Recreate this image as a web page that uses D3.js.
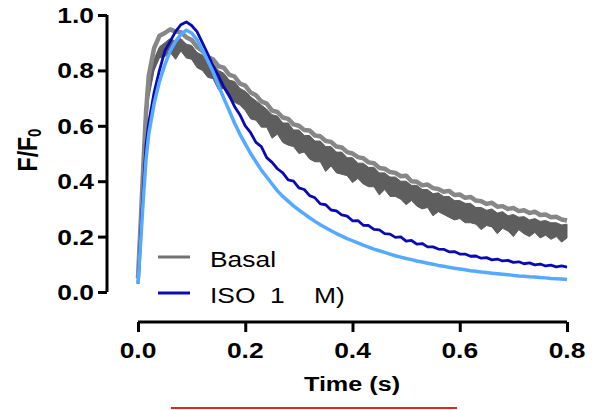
<!DOCTYPE html>
<html>
<head>
<meta charset="utf-8">
<script src="https://cdn.jsdelivr.net/npm/d3@7"></script>
<style>
  body { margin: 0; background: #fff; }
  text { font-family: Arial, "Liberation Sans", sans-serif; }
</style>
</head>
<body>
<div class="content"></div>
<script>
const width = 597
const height = 410

// data
const time = [0, 0.005, 0.01, 0.015,
  0.02, 0.03, 0.04, 0.05, 0.06, 0.07, 0.08, 0.09, 0.10, 0.11,
  0.12, 0.13, 0.14, 0.15, 0.16, 0.17, 0.18, 0.19, 0.20, 0.21,
  0.22, 0.23, 0.24, 0.25, 0.26, 0.27, 0.28, 0.29, 0.30, 0.31,
  0.32, 0.33, 0.34, 0.35, 0.36, 0.37, 0.38, 0.39, 0.40, 0.41,
  0.42, 0.43, 0.44, 0.45, 0.46, 0.47, 0.48, 0.49, 0.50, 0.51,
  0.52, 0.53, 0.54, 0.55, 0.56, 0.57, 0.58, 0.59, 0.60, 0.61,
  0.62, 0.63, 0.64, 0.65, 0.66, 0.67, 0.68, 0.69, 0.70, 0.71,
  0.72, 0.73, 0.74, 0.75, 0.76, 0.77, 0.78, 0.79, 0.80]

const basalA = [0.05, 0.25, 0.46, 0.65,
  0.78, 0.88, 0.925, 0.935, 0.948, 0.94, 0.938, 0.92, 0.91, 0.885,
  0.87, 0.848, 0.84, 0.815, 0.81, 0.785, 0.778, 0.752, 0.745, 0.72,
  0.71, 0.688, 0.68, 0.655, 0.65, 0.63, 0.625, 0.605, 0.60, 0.585,
  0.583, 0.565, 0.562, 0.545, 0.542, 0.525, 0.522, 0.505, 0.50, 0.487,
  0.483, 0.468, 0.465, 0.448, 0.445, 0.433, 0.43, 0.418, 0.42, 0.40,
  0.398, 0.385, 0.388, 0.375, 0.372, 0.362, 0.365, 0.35, 0.352, 0.34,
  0.343, 0.33, 0.328, 0.318, 0.322, 0.308, 0.31, 0.30, 0.303, 0.292,
  0.295, 0.285, 0.29, 0.278, 0.28, 0.27, 0.272, 0.262, 0.258]

// noisy basal trace, drawn as a band between its upper and lower edge
const basalBHigh = [0.05, 0.24, 0.44, 0.62,
  0.74, 0.84, 0.885, 0.90, 0.915, 0.905, 0.915, 0.895, 0.89, 0.865,
  0.855, 0.83, 0.825, 0.80, 0.79, 0.765, 0.76, 0.735, 0.725, 0.705,
  0.69, 0.675, 0.66, 0.64, 0.635, 0.61, 0.61, 0.585, 0.585, 0.565,
  0.565, 0.545, 0.545, 0.525, 0.525, 0.505, 0.505, 0.485, 0.485, 0.465,
  0.465, 0.45, 0.45, 0.43, 0.43, 0.415, 0.415, 0.40, 0.40, 0.385,
  0.385, 0.37, 0.37, 0.355, 0.358, 0.345, 0.345, 0.33, 0.33, 0.32,
  0.32, 0.305, 0.305, 0.295, 0.30, 0.285, 0.29, 0.275, 0.28, 0.27,
  0.272, 0.26, 0.265, 0.255, 0.258, 0.25, 0.25, 0.242, 0.245]

const basalBLow = [0.04, 0.22, 0.42, 0.58,
  0.70, 0.80, 0.845, 0.85, 0.865, 0.84, 0.87, 0.845, 0.84, 0.81,
  0.80, 0.775, 0.77, 0.73, 0.735, 0.70, 0.685, 0.675, 0.655, 0.625,
  0.62, 0.595, 0.595, 0.555, 0.57, 0.54, 0.53, 0.525, 0.50, 0.505,
  0.48, 0.47, 0.47, 0.435, 0.455, 0.43, 0.425, 0.42, 0.395, 0.41,
  0.39, 0.38, 0.38, 0.35, 0.37, 0.345, 0.345, 0.335, 0.315, 0.33,
  0.31, 0.30, 0.305, 0.275, 0.29, 0.28, 0.27, 0.26, 0.265, 0.25,
  0.25, 0.245, 0.225, 0.24, 0.235, 0.21, 0.23, 0.22, 0.20, 0.225,
  0.21, 0.20, 0.215, 0.195, 0.205, 0.19, 0.20, 0.18, 0.195]

const iso = [0.03, 0.21, 0.38, 0.53,
  0.61, 0.72, 0.80, 0.87, 0.905, 0.94, 0.965, 0.975, 0.962, 0.94,
  0.90, 0.86, 0.815, 0.78, 0.74, 0.71, 0.67, 0.64, 0.60, 0.575,
  0.54, 0.525, 0.485, 0.468, 0.445, 0.43, 0.405, 0.40, 0.376, 0.37,
  0.348, 0.34, 0.318, 0.315, 0.296, 0.293, 0.278, 0.274, 0.257, 0.258,
  0.241, 0.24, 0.226, 0.224, 0.211, 0.209, 0.197, 0.199, 0.184, 0.186,
  0.173, 0.175, 0.163, 0.163, 0.155, 0.154, 0.145, 0.146, 0.137, 0.137,
  0.129, 0.13, 0.122, 0.124, 0.116, 0.119, 0.112, 0.114, 0.107, 0.109,
  0.102, 0.105, 0.098, 0.101, 0.094, 0.097, 0.091, 0.094, 0.09]

const isoB = [0.03, 0.18, 0.34, 0.48,
  0.57, 0.68, 0.76, 0.82, 0.87, 0.905, 0.93, 0.945, 0.935, 0.91,
  0.875, 0.835, 0.795, 0.745, 0.70, 0.655, 0.61, 0.57, 0.535, 0.50,
  0.47, 0.44, 0.415, 0.39, 0.365, 0.345, 0.328, 0.311, 0.296, 0.282,
  0.268, 0.255, 0.243, 0.232, 0.221, 0.211, 0.202, 0.193, 0.185, 0.177,
  0.169, 0.162, 0.155, 0.149, 0.143, 0.137, 0.131, 0.126, 0.121, 0.117,
  0.112, 0.108, 0.104, 0.10, 0.096, 0.093, 0.089, 0.086, 0.083, 0.08,
  0.077, 0.075, 0.072, 0.07, 0.068, 0.066, 0.064, 0.062, 0.06, 0.058,
  0.057, 0.055, 0.054, 0.052, 0.051, 0.049, 0.048, 0.047, 0.045]

const xTicks = [0, 0.2, 0.4, 0.6, 0.8]
const yTicks = [0, 0.2, 0.4, 0.6, 0.8, 1.0]
const legendLabels = ['Basal', 'ISO  1    M)']
const legendColors = ['#737373', '#0a0ab4']

// the figure's lettering is stretched sideways a bit
const stretch = 1.2

const x = d3.scaleLinear().domain([0, 0.8]).range([138, 567])
const y = d3.scaleLinear().domain([0, 1]).range([292, 15])

const svg = d3.select('div.content')
    .append('svg')
    .attr('width', width)
    .attr('height', height)

function label(px, py, str, size, weight, anchor) {
    return svg.append('g')
        .attr('transform', `translate(${px},${py}) scale(${stretch},1)`)
        .append('text')
        .attr('text-anchor', anchor)
        .attr('font-size', size)
        .attr('font-weight', weight)
        .style('white-space', 'pre')
        .text(str)
}

// traces
const band = d3.area()
    .x((d, i) => x(time[i]))
    .y0((d, i) => y(basalBLow[i]))
    .y1((d, i) => y(basalBHigh[i]))

svg.append('path')
    .datum(time)
    .attr('d', band)
    .attr('fill', '#5e5e5e')
    .attr('stroke', '#5e5e5e')
    .attr('stroke-width', 1)

const line = vals => d3.line()
    .x((d, i) => x(time[i]))
    .y((d, i) => y(vals[i]))(time)

svg.append('path')
    .attr('d', line(basalA))
    .attr('fill', 'none')
    .attr('stroke', '#878787')
    .attr('stroke-width', 4.5)
    .attr('stroke-linejoin', 'round')

svg.append('path')
    .attr('d', line(iso))
    .attr('fill', 'none')
    .attr('stroke', '#0a0ab4')
    .attr('stroke-width', 2.8)
    .attr('stroke-linejoin', 'round')

svg.append('path')
    .attr('d', line(isoB))
    .attr('fill', 'none')
    .attr('stroke', '#55a9ff')
    .attr('stroke-width', 3.5)
    .attr('stroke-linejoin', 'round')

// axes
const xAxis = svg.append('g')
    .attr('transform', 'translate(0,322)')
    .call(d3.axisBottom(x).tickValues(xTicks).tickSize(10).tickFormat(d3.format('.1f')))
const yAxis = svg.append('g')
    .attr('transform', 'translate(107,0)')
    .call(d3.axisLeft(y).tickValues(yTicks).tickSize(9).tickFormat(d3.format('.1f')))

for (const ax of [xAxis, yAxis]) {
    ax.select('.domain').attr('stroke', '#000').attr('stroke-width', 3)
    ax.selectAll('.tick line').attr('stroke', '#000').attr('stroke-width', 3)
    ax.selectAll('.tick text').remove()
}
xAxis.select('.domain').attr('d', `M${x(0)},0H${x(0.8)}`)
yAxis.select('.domain').attr('d', `M0,${y(0)}V${y(1)}`)

xTicks.forEach(t => label(x(t), 358, d3.format('.1f')(t), 22, 'bold', 'middle'))
yTicks.forEach(t => label(94, y(t) + 8, d3.format('.1f')(t), 22, 'bold', 'end'))

// axis titles
label(352, 391, 'Time (s)', 21, 'bold', 'middle')

const yTitle = svg.append('g')
    .attr('transform', 'translate(37,150) rotate(-90) scale(1,1.2)')
    .append('text')
    .attr('text-anchor', 'middle')
    .attr('font-size', 23)
    .attr('font-weight', 'bold')
yTitle.append('tspan').text('F/F')
yTitle.append('tspan').attr('font-size', 15).attr('dy', 3).text('0')

// legend
legendLabels.forEach((name, i) => {
    const ly = 257 + i * 36
    svg.append('line')
        .attr('x1', 158).attr('x2', 190)
        .attr('y1', ly).attr('y2', ly)
        .attr('stroke', legendColors[i])
        .attr('stroke-width', 3)
    label(210, ly + 10, name, 22, 'normal', 'start')
})

// red bar under the axis title
svg.append('line')
    .attr('x1', 171).attr('x2', 457)
    .attr('y1', 408).attr('y2', 408)
    .attr('stroke', '#e8231e')
    .attr('stroke-width', 2)
</script>
</body>
</html>
